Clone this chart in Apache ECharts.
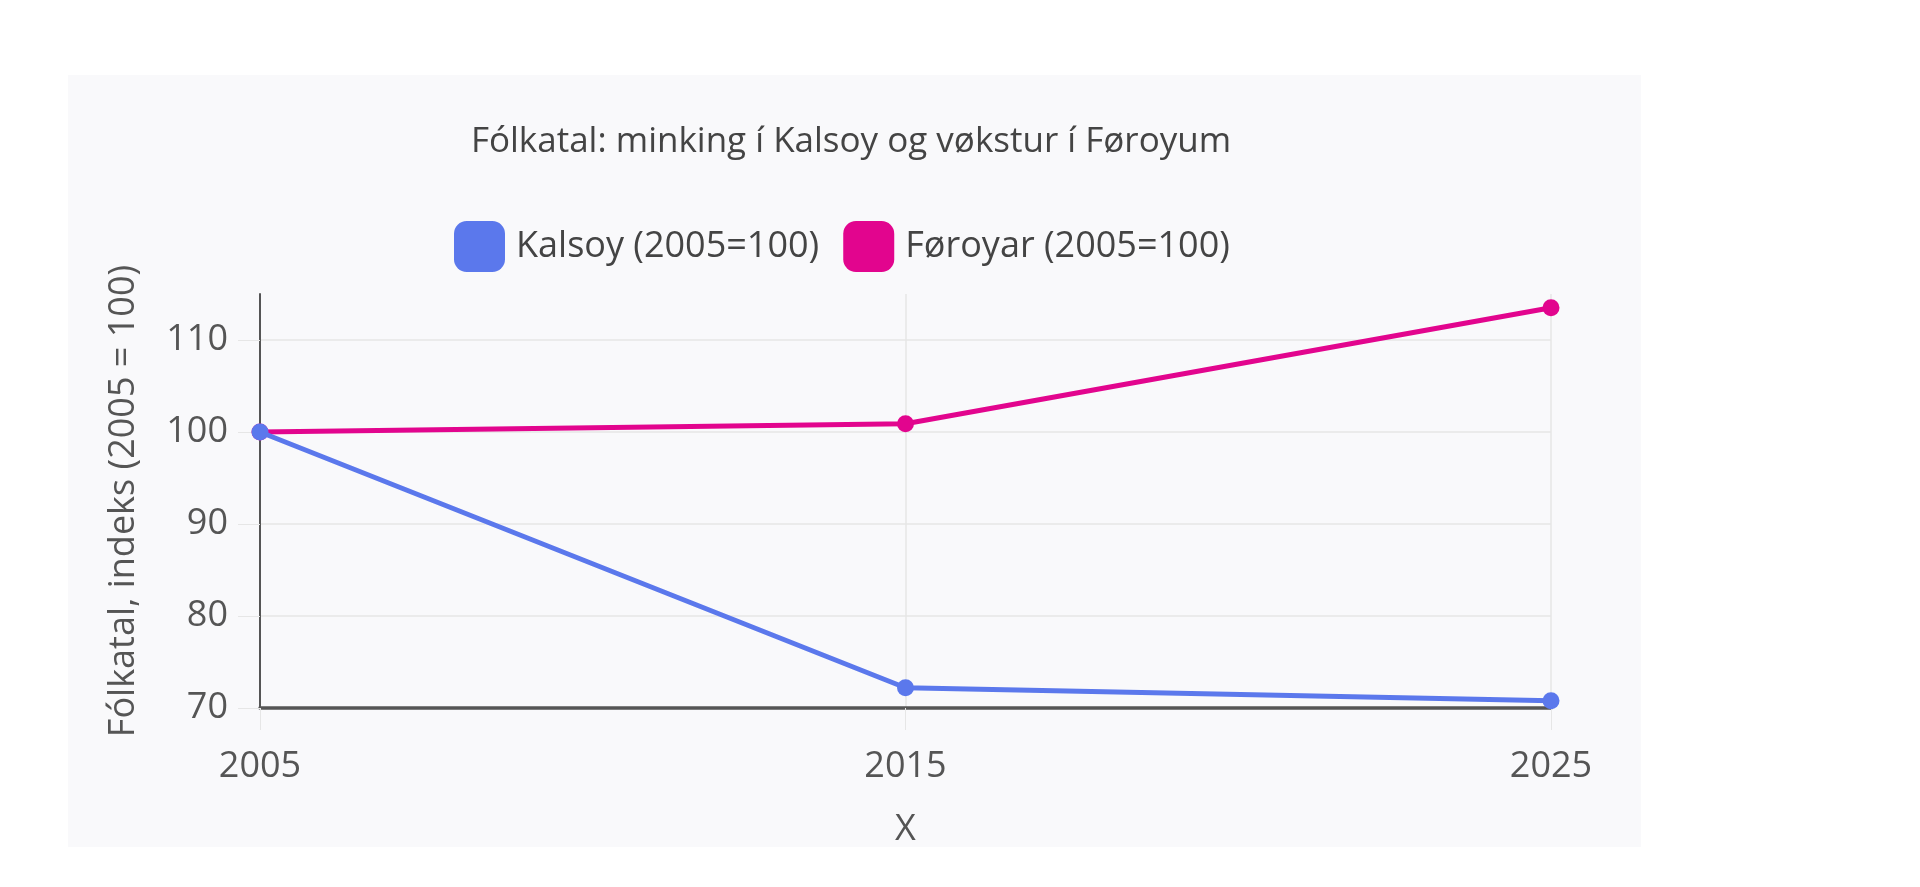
<!DOCTYPE html>
<html>
<head>
<meta charset="utf-8">
<script src="https://cdn.jsdelivr.net/npm/echarts@6/dist/echarts.min.js"></script>
<style>
html, body { margin: 0; padding: 0; background: #ffffff; }
#chart { width: 1920px; height: 887px; }
</style>
</head>
<body>
<div id="chart"></div>
<script>
// data
var years = ['2005', '2015', '2025'];
var kalsoy = [100, 72.2, 70.8];
var foroyar = [100, 100.9, 113.5];
var seriesNames = ['Kalsoy (2005=100)', 'Føroyar (2005=100)'];

var myChart = echarts.init(document.getElementById('chart'));
var font = '"Open Sans", "Noto Sans", sans-serif';

var option = {
    backgroundColor: '#ffffff',
    color: ['#5b78ec', '#e2058e'],
    graphic: [
        {
            type: 'rect',
            z: -10,
            shape: { x: 68, y: 75, width: 1573, height: 772 },
            style: { fill: '#f9f9fb' }
        }
    ],
    title: {
        text: 'Fólkatal: minking í Kalsoy og vøkstur í Føroyum',
        left: 846,
        textAlign: 'center',
        top: 120,
        textStyle: { fontFamily: font, fontSize: 35, fontWeight: 'normal', color: '#444' }
    },
    legend: {
        top: 216,
        left: 449,
        itemWidth: 51,
        itemHeight: 51,
        itemGap: 24,
        icon: 'roundRect',
        textStyle: { fontFamily: font, fontSize: 36, color: '#444', padding: [0, 0, 0, 6] },
        data: seriesNames
    },
    grid: { left: 260, right: 369, top: 294, bottom: 179 },
    xAxis: {
        type: 'category',
        boundaryGap: false,
        data: years,
        name: 'X',
        nameLocation: 'middle',
        nameGap: 104,
        nameTextStyle: { fontFamily: font, fontSize: 36, color: '#555' },
        axisLine: { lineStyle: { color: '#555', width: 3.5 } },
        axisTick: { show: true, length: 22, lineStyle: { color: '#e6e6e6' } },
        axisLabel: { fontFamily: font, fontSize: 36, color: '#555', margin: 41 },
        splitLine: { show: true, lineStyle: { color: '#e6e6e6', width: 1.5 } }
    },
    yAxis: {
        type: 'value',
        min: 70,
        max: 115,
        interval: 10,
        name: 'Fólkatal, indeks (2005 = 100)',
        nameLocation: 'middle',
        nameGap: 118,
        nameTextStyle: { fontFamily: font, fontSize: 36, color: '#555' },
        axisLine: { show: true, lineStyle: { color: '#555', width: 2 } },
        axisTick: { show: true, length: 22, lineStyle: { color: '#e6e6e6' } },
        axisLabel: {
            fontFamily: font, fontSize: 36, color: '#555', margin: 32,
            showMaxLabel: false
        },
        splitLine: { show: true, showMaxLine: false, lineStyle: { color: '#e6e6e6', width: 1.5 } }
    },
    series: [
        {
            name: seriesNames[0],
            type: 'line',
            data: kalsoy,
            symbol: 'circle',
            symbolSize: 17,
            lineStyle: { width: 5 },
            z: 3
        },
        {
            name: seriesNames[1],
            type: 'line',
            data: foroyar,
            symbol: 'circle',
            symbolSize: 17,
            lineStyle: { width: 5 },
            z: 2
        }
    ]
};

myChart.setOption(option);
</script>
</body>
</html>
